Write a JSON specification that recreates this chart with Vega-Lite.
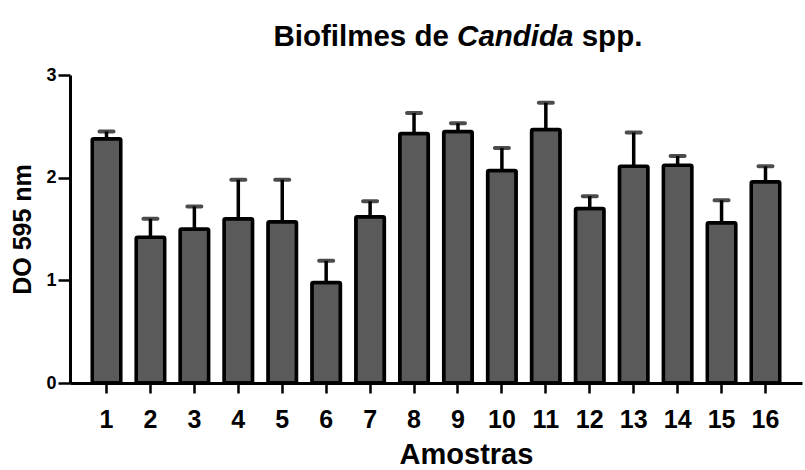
{
  "$schema": "https://vega.github.io/schema/vega-lite/v6.json",
  "autosize": {"type": "none"},
  "padding": {"left": 70, "top": 75, "right": 3, "bottom": 87},
  "width": 732,
  "height": 308,
  "background": "white",
  "config": {
    "view": {"stroke": null},
    "font": "Liberation Sans"
  },
  "data": {
    "values": [
      {"amostra": "1", "media": 2.38, "superior": 2.45},
      {"amostra": "2", "media": 1.42, "superior": 1.60},
      {"amostra": "3", "media": 1.50, "superior": 1.72},
      {"amostra": "4", "media": 1.60, "superior": 1.98},
      {"amostra": "5", "media": 1.57, "superior": 1.98},
      {"amostra": "6", "media": 0.98, "superior": 1.19},
      {"amostra": "7", "media": 1.62, "superior": 1.77},
      {"amostra": "8", "media": 2.43, "superior": 2.63},
      {"amostra": "9", "media": 2.45, "superior": 2.53},
      {"amostra": "10", "media": 2.07, "superior": 2.29},
      {"amostra": "11", "media": 2.47, "superior": 2.73},
      {"amostra": "12", "media": 1.70, "superior": 1.82},
      {"amostra": "13", "media": 2.11, "superior": 2.44},
      {"amostra": "14", "media": 2.12, "superior": 2.21},
      {"amostra": "15", "media": 1.56, "superior": 1.78},
      {"amostra": "16", "media": 1.96, "superior": 2.11}
    ]
  },
  "resolve": {"axis": {"x": "independent", "y": "independent"}},
  "layer": [
    {
      "mark": {
        "type": "bar",
        "fill": "#5a5a5a",
        "stroke": "#000000",
        "strokeWidth": 3.5,
        "strokeJoin": "round",
        "cornerRadius": 1.5
      },
      "encoding": {
        "x": {
          "field": "amostra",
          "type": "nominal",
          "sort": null,
          "scale": {"paddingInner": 0.35, "paddingOuter": 0.506},
          "axis": {
            "orient": "bottom",
            "title": "Amostras",
            "titleFont": "Liberation Sans",
            "titleFontSize": 29,
            "titleFontWeight": "bold",
            "titleColor": "#000000",
            "titleX": 396,
            "titleY": 80,
            "titleBaseline": "alphabetic",
            "labelAngle": 0,
            "labelFont": "Liberation Sans",
            "labelFontSize": 25,
            "labelFontWeight": "bold",
            "labelColor": "#000000",
            "labelPadding": 14,
            "labelBaseline": "top",
            "domainColor": "#000000",
            "domainWidth": 3,
            "tickColor": "#000000",
            "tickWidth": 2.5,
            "tickSize": 10,
            "grid": false
          }
        },
        "y": {
          "field": "media",
          "type": "quantitative",
          "scale": {"domain": [0, 3], "nice": false},
          "axis": {
            "orient": "left",
            "title": "DO 595 nm",
            "titleFont": "Liberation Sans",
            "titleFontSize": 25,
            "titleFontWeight": "bold",
            "titleColor": "#000000",
            "titlePadding": 10,
            "values": [0, 1, 2, 3],
            "format": "d",
            "labelFont": "Liberation Sans",
            "labelFontSize": 18,
            "labelFontWeight": "bold",
            "labelColor": "#000000",
            "labelPadding": 2,
            "domainColor": "#000000",
            "domainWidth": 3,
            "tickColor": "#000000",
            "tickWidth": 2.5,
            "tickSize": 12,
            "grid": false
          }
        }
      }
    },
    {
      "mark": {"type": "rule", "color": "#000000", "strokeWidth": 3.5},
      "encoding": {
        "x": {
          "field": "amostra",
          "type": "nominal",
          "sort": null,
          "axis": {
            "orient": "top",
            "title": "Biofilmes de",
            "titleFont": "Liberation Sans",
            "titleFontSize": 29.5,
            "titleFontWeight": "bold",
            "titleColor": "#000000",
            "titleAlign": "left",
            "titleBaseline": "alphabetic",
            "titleX": 203,
            "titleY": -30,
            "labels": false,
            "ticks": false,
            "domain": false,
            "grid": false
          }
        },
        "y": {
          "field": "media",
          "type": "quantitative",
          "axis": {
            "orient": "right",
            "title": "spp.",
            "titleAngle": 0,
            "titleFont": "Liberation Sans",
            "titleFontSize": 29.5,
            "titleFontWeight": "bold",
            "titleColor": "#000000",
            "titleAlign": "left",
            "titleBaseline": "alphabetic",
            "titleX": -220.8,
            "titleY": -30,
            "labels": false,
            "ticks": false,
            "domain": false,
            "grid": false
          }
        },
        "y2": {"field": "superior"}
      }
    },
    {
      "mark": {"type": "tick", "color": "#000000", "size": 18, "thickness": 4, "cornerRadius": 2},
      "encoding": {
        "x": {
          "field": "amostra",
          "type": "nominal",
          "sort": null,
          "axis": {
            "orient": "top",
            "title": "Candida",
            "titleFont": "Liberation Sans",
            "titleFontSize": 29.5,
            "titleFontWeight": "bold",
            "titleFontStyle": "italic",
            "titleColor": "#000000",
            "titleAlign": "left",
            "titleBaseline": "alphabetic",
            "titleX": 386.6,
            "titleY": -30,
            "labels": false,
            "ticks": false,
            "domain": false,
            "grid": false
          }
        },
        "y": {
          "field": "superior",
          "type": "quantitative",
          "axis": null
        }
      }
    }
  ]
}
